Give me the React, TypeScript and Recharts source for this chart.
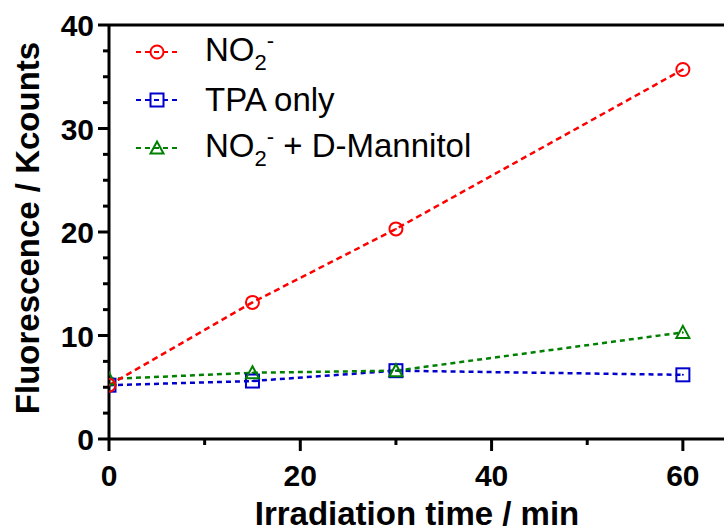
import React from "react";
import { LineChart, Line, XAxis, YAxis, ReferenceLine } from "recharts";

const TIMES = [0, 15, 30, 60];
const NO2 = [5.2, 13.2, 20.3, 35.7];
const TPA_ONLY = [5.2, 5.6, 6.6, 6.2];
const MANNITOL = [5.8, 6.4, 6.6, 10.3];

const X_MAJOR = [0, 20, 40, 60];
const X_TICKS = [0, 10, 20, 30, 40, 50, 60];
const Y_MAJOR = [0, 10, 20, 30, 40];
const Y_TICKS = [0, 2.5, 5, 7.5, 10, 12.5, 15, 17.5, 20, 22.5, 25, 27.5, 30, 32.5, 35, 37.5, 40];

const RED = "#ff0000";
const BLUE = "#0000cc";
const GREEN = "#008000";
const FONT = "'Liberation Sans', Arial, sans-serif";

const data = TIMES.map((t, i) => ({
  t,
  no2: NO2[i],
  tpa: TPA_ONLY[i],
  mannitol: MANNITOL[i],
}));

type MarkerKind = "circle" | "square" | "triangle";

function Marker({ kind, cx, cy, color }: { kind: MarkerKind; cx: number; cy: number; color: string }) {
  const s = 6.5;
  let shape;
  if (kind === "circle") {
    shape = <circle cx={cx} cy={cy} r={s} fill="none" stroke={color} strokeWidth={2} />;
  } else if (kind === "square") {
    shape = <rect x={cx - s} y={cy - s} width={s * 2} height={s * 2} fill="none" stroke={color} strokeWidth={2} />;
  } else {
    shape = (
      <polygon
        points={`${cx},${cy - s} ${cx + s},${cy + s - 1} ${cx - s},${cy + s - 1}`}
        fill="none"
        stroke={color}
        strokeWidth={2}
      />
    );
  }
  return (
    <g>
      {shape}
      <circle cx={cx} cy={cy} r={1} fill={color} />
    </g>
  );
}

const dotFor = (kind: MarkerKind, color: string) => (props: any) => {
  const { cx, cy, index } = props;
  return <Marker key={`${kind}-${index}`} kind={kind} cx={cx} cy={cy} color={color} />;
};

function XTick(props: any) {
  const { x, y, payload } = props;
  const major = X_MAJOR.includes(payload.value);
  return (
    <g>
      <line x1={x} x2={x} y1={y} y2={y + (major ? 12 : 6)} stroke="#000" strokeWidth={3} />
      {major && (
        <text x={x} y={y + 47} textAnchor="middle" fontFamily={FONT} fontWeight="bold" fontSize={30} fill="#000">
          {payload.value}
        </text>
      )}
    </g>
  );
}

function YTick(props: any) {
  const { x, y, payload } = props;
  const major = Y_MAJOR.includes(payload.value);
  return (
    <g>
      <line x1={x} x2={x - (major ? 11 : 6)} y1={y} y2={y} stroke="#000" strokeWidth={3} />
      {major && (
        <text x={x - 15} y={y + 11} textAnchor="end" fontFamily={FONT} fontWeight="bold" fontSize={30} fill="#000">
          {payload.value}
        </text>
      )}
    </g>
  );
}

const subStyle = { fontSize: 22, verticalAlign: -9 };
const supStyle = { fontSize: 22, verticalAlign: 13 };

const LEGEND_ROWS: { kind: MarkerKind; color: string; label: React.ReactNode }[] = [
  {
    kind: "circle",
    color: RED,
    label: (
      <>
        NO<sub style={subStyle}>2</sub>
        <sup style={supStyle}>-</sup>
      </>
    ),
  },
  { kind: "square", color: BLUE, label: "TPA only" },
  {
    kind: "triangle",
    color: GREEN,
    label: (
      <>
        NO<sub style={subStyle}>2</sub>
        <sup style={supStyle}>-</sup> + D-Mannitol
      </>
    ),
  },
];

function LegendBox() {
  return (
    <div style={{ position: "absolute", left: 135, top: 28, fontFamily: FONT, fontSize: 33, color: "#000" }}>
      {LEGEND_ROWS.map((r, i) => (
        <div key={i} style={{ display: "flex", alignItems: "center", height: 48, whiteSpace: "nowrap" }}>
          <svg width={46} height={20} style={{ marginRight: 24 }}>
            <line x1={1} x2={45} y1={10} y2={10} stroke={r.color} strokeWidth={2} strokeDasharray="5 4" />
            <Marker kind={r.kind} cx={22} cy={10} color={r.color} />
          </svg>
          <span style={{ lineHeight: "48px" }}>{r.label}</span>
        </div>
      ))}
    </div>
  );
}

function YTitle() {
  const cx = 27;
  const cy = 228;
  return (
    <text
      x={cx}
      y={cy}
      transform={`rotate(-90 ${cx} ${cy})`}
      textAnchor="middle"
      dominantBaseline="central"
      fontFamily={FONT}
      fontWeight="bold"
      fontSize={33}
      fill="#000"
    >
      Fluorescence / Kcounts
    </text>
  );
}

function XTitle() {
  return (
    <text x={417} y={525} textAnchor="middle" fontFamily={FONT} fontWeight="bold" fontSize={33} fill="#000">
      Irradiation time / min
    </text>
  );
}

export default function App() {
  return (
    <div style={{ position: "absolute", left: 0, top: 0, width: 724, height: 531, background: "#fff" }}>
      <LineChart width={724} height={531} data={data} margin={{ top: 25, right: 0, bottom: 0, left: 0 }}>
        <XAxis
          dataKey="t"
          type="number"
          domain={[0, 64.3]}
          ticks={X_TICKS}
          interval={0}
          allowDataOverflow
          height={92}
          axisLine={{ stroke: "#000", strokeWidth: 3 }}
          tickLine={false}
          tickSize={0}
          tickMargin={0}
          tick={<XTick />}
          label={<XTitle />}
        />
        <YAxis
          type="number"
          domain={[0, 40]}
          ticks={Y_TICKS}
          interval={0}
          width={109}
          axisLine={{ stroke: "#000", strokeWidth: 3 }}
          tickLine={false}
          tickSize={0}
          tickMargin={0}
          tick={<YTick />}
          label={<YTitle />}
        />
        <ReferenceLine y={40} stroke="#000" strokeWidth={3} />
        <Line
          dataKey="tpa"
          stroke={BLUE}
          strokeWidth={2.5}
          strokeDasharray="5 4"
          dot={dotFor("square", BLUE)}
          isAnimationActive={false}
        />
        <Line
          dataKey="mannitol"
          stroke={GREEN}
          strokeWidth={2.5}
          strokeDasharray="5 4"
          dot={dotFor("triangle", GREEN)}
          isAnimationActive={false}
        />
        <Line
          dataKey="no2"
          stroke={RED}
          strokeWidth={2.5}
          strokeDasharray="6 4"
          dot={dotFor("circle", RED)}
          isAnimationActive={false}
        />
      </LineChart>
      <LegendBox />
    </div>
  );
}
